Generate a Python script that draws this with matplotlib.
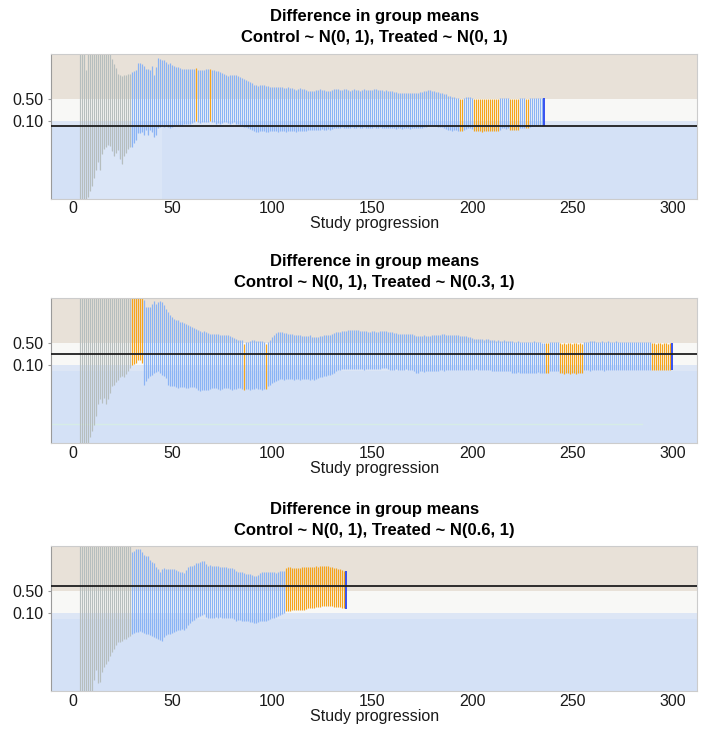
import numpy as np
import matplotlib
matplotlib.use("Agg")
import matplotlib.pyplot as plt

plt.rcParams['font.family'] = ['Liberation Sans', 'DejaVu Sans']

# ---- data ------------------------------------------------------------------
# each panel: confidence interval (lower, upper) per study step, starting at step 4
first_step = 4
burn_in = 30          # steps before this are drawn grey

titles = [
    "Difference in group means\nControl ~ N(0, 1), Treated ~ N(0, 1)",
    "Difference in group means\nControl ~ N(0, 1), Treated ~ N(0.3, 1)",
    "Difference in group means\nControl ~ N(0, 1), Treated ~ N(0.6, 1)",
]
true_diff = [0.0, 0.3, 0.6]

upper1 = [
    2.20, 1.90, 1.70, 1.02, 1.60, 1.80, 1.70, 1.60, 1.55, 1.50,
    1.50, 1.45, 1.42, 1.40, 1.38, 1.35, 1.22, 1.14, 1.06, 0.96,
    0.93, 0.91, 0.93, 0.93, 0.95, 0.95, 0.99, 1.01, 1.02, 1.15,
    1.15, 1.13, 1.09, 1.05, 1.05, 1.02, 1.09, 0.93, 1.08, 1.25,
    1.23, 1.20, 1.20, 1.17, 1.14, 1.15, 1.11, 1.09, 1.08, 1.08,
    1.06, 1.05, 1.05, 1.05, 1.04, 1.04, 1.05, 1.04, 1.06, 1.03,
    1.02, 1.02, 1.03, 1.04, 1.04, 1.05, 1.03, 1.02, 1.00, 1.00,
    0.99, 0.97, 0.95, 0.93, 0.92, 0.93, 0.93, 0.94, 0.93, 0.91,
    0.90, 0.88, 0.87, 0.85, 0.83, 0.81, 0.79, 0.76, 0.75, 0.74,
    0.75, 0.76, 0.75, 0.74, 0.73, 0.72, 0.72, 0.72, 0.72, 0.71,
    0.72, 0.71, 0.70, 0.70, 0.71, 0.70, 0.69, 0.67, 0.66, 0.68,
    0.69, 0.68, 0.67, 0.66, 0.64, 0.65, 0.64, 0.65, 0.66, 0.66,
    0.67, 0.66, 0.66, 0.65, 0.64, 0.65, 0.66, 0.67, 0.68, 0.67,
    0.66, 0.66, 0.67, 0.67, 0.66, 0.65, 0.66, 0.67, 0.66, 0.66,
    0.65, 0.66, 0.67, 0.66, 0.66, 0.66, 0.66, 0.67, 0.67, 0.66,
    0.66, 0.66, 0.65, 0.66, 0.65, 0.64, 0.64, 0.63, 0.62, 0.61,
    0.61, 0.60, 0.60, 0.60, 0.60, 0.61, 0.61, 0.60, 0.60, 0.61,
    0.62, 0.63, 0.64, 0.65, 0.66, 0.66, 0.65, 0.64, 0.63, 0.62,
    0.61, 0.60, 0.59, 0.58, 0.56, 0.55, 0.54, 0.53, 0.52, 0.52,
    0.49, 0.49, 0.51, 0.53, 0.54, 0.53, 0.52, 0.49, 0.49, 0.49,
    0.49, 0.49, 0.49, 0.49, 0.49, 0.49, 0.49, 0.49, 0.49, 0.49,
    0.51, 0.52, 0.52, 0.51, 0.51, 0.49, 0.49, 0.49, 0.49, 0.49,
    0.51, 0.51, 0.51, 0.49, 0.49, 0.51, 0.51, 0.52, 0.52, 0.51,
    0.52, 0.51, 0.51,
]
lower1 = [
    -2.00, -1.80, -1.60, -1.45, -1.28, -1.18, -1.08, -0.95, -0.80, -0.65,
    -0.80, -0.50, -0.42, -0.38, -0.34, -0.36, -0.45, -0.55, -0.48, -0.43,
    -0.60, -0.68, -0.55, -0.48, -0.42, -0.37, -0.38, -0.30, -0.25, -0.13,
    -0.13, -0.10, -0.16, -0.07, -0.16, -0.07, -0.10, -0.20, -0.16, -0.04,
    -0.02, 0.00, -0.02, 0.01, -0.02, -0.03, -0.02, 0.01, 0.02, 0.03,
    0.02, 0.03, 0.04, 0.05, 0.04, 0.05, 0.06, 0.08, 0.10, 0.07,
    0.06, 0.07, 0.08, 0.07, 0.08, 0.10, 0.08, 0.07, 0.05, 0.06,
    0.05, 0.06, 0.07, 0.07, 0.06, 0.05, 0.06, 0.07, 0.05, 0.04,
    0.02, 0.00, -0.01, -0.02, -0.03, -0.05, -0.07, -0.09, -0.10, -0.10,
    -0.09, -0.08, -0.09, -0.10, -0.10, -0.09, -0.09, -0.08, -0.09, -0.10,
    -0.09, -0.08, -0.09, -0.10, -0.09, -0.08, -0.08, -0.09, -0.10, -0.09,
    -0.08, -0.08, -0.09, -0.08, -0.07, -0.07, -0.06, -0.06, -0.07, -0.06,
    -0.06, -0.05, -0.06, -0.06, -0.05, -0.06, -0.05, -0.04, -0.03, -0.03,
    -0.03, -0.02, -0.03, -0.03, -0.04, -0.03, -0.02, -0.03, -0.03, -0.02,
    -0.03, -0.03, -0.02, -0.03, -0.04, -0.03, -0.03, -0.02, -0.03, -0.03,
    -0.02, -0.03, -0.03, -0.04, -0.03, -0.03, -0.04, -0.04, -0.05, -0.04,
    -0.04, -0.05, -0.04, -0.04, -0.04, -0.05, -0.04, -0.04, -0.03, -0.04,
    -0.04, -0.03, -0.02, -0.01, 0.01, 0.02, 0.02, 0.01, 0.00, -0.01,
    -0.02, -0.02, -0.03, -0.05, -0.07, -0.07, -0.08, -0.07, -0.07, -0.08,
    -0.09, -0.09, -0.07, -0.05, -0.04, -0.04, -0.05, -0.08, -0.09, -0.09,
    -0.09, -0.10, -0.09, -0.09, -0.09, -0.09, -0.09, -0.09, -0.08, -0.09,
    -0.06, -0.04, -0.04, -0.05, -0.04, -0.06, -0.06, -0.07, -0.06, -0.06,
    -0.04, -0.03, -0.03, -0.03, -0.03, -0.01, 0.00, 0.00, 0.01, 0.00,
    0.00, 0.00, 0.01,
]
orange1 = [(62, 62), (69, 69), (194, 195), (201, 213), (219, 223), (227, 228)]

upper2 = [
    2.60, 2.40, 2.20, 2.10, 2.00, 1.95, 1.90, 1.85, 1.80, 1.78,
    1.75, 1.70, 1.68, 1.65, 1.62, 1.60, 1.58, 1.56, 1.54, 1.52,
    1.50, 1.48, 1.47, 1.46, 1.45, 1.44, 1.43, 1.42, 1.41, 1.40,
    1.39, 1.38, 1.30, 1.17, 1.16, 1.17, 1.22, 1.28, 1.22, 1.25,
    1.28, 1.25, 1.20, 1.13, 1.07, 1.01, 0.98, 0.95, 0.92, 0.92,
    0.90, 0.89, 0.88, 0.86, 0.83, 0.82, 0.80, 0.78, 0.77, 0.74,
    0.72, 0.71, 0.72, 0.70, 0.69, 0.68, 0.68, 0.68, 0.67, 0.67,
    0.66, 0.65, 0.65, 0.65, 0.65, 0.63, 0.62, 0.60, 0.59, 0.57,
    0.57, 0.56, 0.49, 0.53, 0.53, 0.54, 0.56, 0.56, 0.55, 0.55,
    0.55, 0.54, 0.53, 0.49, 0.53, 0.57, 0.62, 0.66, 0.69, 0.71,
    0.71, 0.70, 0.69, 0.69, 0.68, 0.68, 0.67, 0.66, 0.65, 0.65,
    0.65, 0.64, 0.63, 0.63, 0.64, 0.65, 0.62, 0.61, 0.61, 0.62,
    0.63, 0.64, 0.65, 0.66, 0.65, 0.66, 0.68, 0.69, 0.71, 0.71,
    0.71, 0.72, 0.72, 0.73, 0.74, 0.75, 0.75, 0.75, 0.75, 0.74,
    0.73, 0.73, 0.72, 0.72, 0.71, 0.71, 0.72, 0.72, 0.71, 0.71,
    0.72, 0.73, 0.73, 0.72, 0.71, 0.71, 0.70, 0.69, 0.69, 0.68,
    0.68, 0.67, 0.67, 0.68, 0.67, 0.67, 0.68, 0.66, 0.64, 0.63,
    0.63, 0.64, 0.65, 0.64, 0.63, 0.64, 0.65, 0.65, 0.65, 0.65,
    0.66, 0.67, 0.67, 0.66, 0.66, 0.66, 0.66, 0.66, 0.65, 0.65,
    0.64, 0.64, 0.63, 0.63, 0.62, 0.61, 0.60, 0.58, 0.58, 0.59,
    0.58, 0.58, 0.57, 0.58, 0.58, 0.57, 0.56, 0.56, 0.55, 0.56,
    0.55, 0.55, 0.56, 0.55, 0.54, 0.55, 0.54, 0.53, 0.53, 0.54,
    0.53, 0.52, 0.53, 0.53, 0.52, 0.53, 0.53, 0.54, 0.53, 0.52,
    0.52, 0.51, 0.51, 0.50, 0.50, 0.52, 0.53, 0.53, 0.53, 0.52,
    0.50, 0.49, 0.50, 0.49, 0.50, 0.50, 0.49, 0.50, 0.50, 0.49,
    0.50, 0.49, 0.52, 0.53, 0.53, 0.54, 0.54, 0.54, 0.53, 0.53,
    0.53, 0.54, 0.53, 0.53, 0.54, 0.53, 0.53, 0.53, 0.54, 0.53,
    0.53, 0.53, 0.52, 0.53, 0.53, 0.53, 0.52, 0.53, 0.53, 0.52,
    0.53, 0.53, 0.52, 0.53, 0.52, 0.52, 0.50, 0.50, 0.49, 0.50,
    0.50, 0.49, 0.50, 0.50, 0.49, 0.50, 0.50,
]
lower2 = [
    -2.20, -1.90, -1.60, -1.40, -1.35, -1.20, -1.10, -0.98, -0.82, -0.60,
    -0.52, -0.58, -0.50, -0.60, -0.52, -0.40, -0.28, -0.25, -0.20, -0.16,
    -0.12, -0.10, -0.12, -0.06, -0.01, 0.05, 0.11, 0.12, 0.14, 0.20,
    0.20, 0.14, -0.25, -0.18, -0.13, -0.10, -0.07, -0.04, -0.02, -0.01,
    -0.04, -0.07, -0.10, -0.13, -0.25, -0.27, -0.28, -0.28, -0.29, -0.31,
    -0.30, -0.30, -0.29, -0.31, -0.31, -0.30, -0.29, -0.29, -0.32, -0.34,
    -0.36, -0.35, -0.34, -0.34, -0.34, -0.33, -0.32, -0.31, -0.32, -0.33,
    -0.34, -0.33, -0.31, -0.31, -0.32, -0.33, -0.34, -0.33, -0.33, -0.32,
    -0.32, -0.33, -0.34, -0.33, -0.33, -0.34, -0.33, -0.33, -0.32, -0.33,
    -0.33, -0.34, -0.33, -0.33, -0.28, -0.25, -0.22, -0.20, -0.18, -0.16,
    -0.15, -0.15, -0.16, -0.15, -0.15, -0.14, -0.15, -0.16, -0.15, -0.15,
    -0.16, -0.15, -0.15, -0.14, -0.15, -0.16, -0.15, -0.16, -0.14, -0.13,
    -0.12, -0.12, -0.10, -0.09, -0.08, -0.07, -0.05, -0.03, -0.01, 0.01,
    0.02, 0.03, 0.03, 0.03, 0.04, 0.03, 0.03, 0.03, 0.04, 0.03,
    0.03, 0.03, 0.02, 0.03, 0.03, 0.04, 0.03, 0.03, 0.03, 0.04,
    0.04, 0.05, 0.05, 0.05, 0.03, 0.02, 0.02, 0.02, 0.03, 0.02,
    0.02, 0.02, 0.02, 0.03, 0.02, 0.02, 0.02, -0.01, -0.03, -0.03,
    -0.01, -0.01, -0.02, -0.01, -0.01, -0.01, -0.01, 0.00, -0.01, -0.01,
    0.01, 0.01, 0.00, 0.01, 0.01, 0.01, 0.02, 0.01, 0.01, 0.01,
    0.01, 0.02, 0.02, 0.01, 0.02, 0.02, 0.02, 0.02, 0.03, 0.02,
    0.02, 0.02, 0.02, 0.02, 0.02, 0.02, -0.01, -0.01, 0.00, -0.01,
    -0.01, -0.01, -0.01, 0.00, -0.01, -0.01, -0.03, -0.03, -0.03, -0.02,
    -0.03, -0.03, -0.03, -0.03, -0.04, -0.03, -0.03, -0.03, -0.03, -0.02,
    -0.03, -0.03, -0.03, -0.03, -0.03, -0.01, -0.01, -0.01, -0.01, -0.01,
    -0.04, -0.04, -0.05, -0.04, -0.04, -0.05, -0.04, -0.04, -0.05, -0.04,
    -0.04, -0.04, 0.01, 0.01, 0.01, 0.00, 0.01, 0.01, 0.01, 0.01,
    0.01, 0.01, 0.00, 0.01, 0.01, 0.01, 0.01, 0.01, 0.01, 0.01,
    0.01, 0.01, 0.01, 0.01, 0.01, 0.01, 0.01, 0.01, 0.01, 0.01,
    0.01, 0.01, 0.01, 0.01, 0.01, 0.01, 0.01, 0.01, 0.01, 0.01,
    0.01, 0.01, 0.01, 0.01, 0.01, 0.01, 0.02,
]
orange2 = [(30, 35), (86, 86), (97, 97), (237, 238), (244, 255), (290, 299)]

upper3 = [
    2.60, 2.40, 2.20, 2.10, 2.00, 1.95, 1.90, 1.85, 1.80, 1.78,
    1.75, 1.70, 1.68, 1.65, 1.62, 1.60, 1.58, 1.56, 1.54, 1.52,
    1.50, 1.48, 1.46, 1.45, 1.43, 1.41, 1.21, 1.24, 1.27, 1.28,
    1.27, 1.21, 1.17, 1.14, 1.14, 1.08, 1.03, 1.01, 0.95, 0.90,
    0.86, 0.90, 0.92, 0.91, 0.91, 0.91, 0.90, 0.91, 0.89, 0.88,
    0.86, 0.85, 0.84, 0.89, 0.94, 0.97, 0.96, 0.99, 1.02, 1.01,
    1.03, 1.06, 1.05, 1.00, 0.97, 0.98, 0.97, 0.96, 0.96, 0.96,
    0.95, 0.94, 0.94, 0.94, 0.93, 0.93, 0.92, 0.90, 0.88, 0.85,
    0.86, 0.85, 0.84, 0.82, 0.82, 0.81, 0.80, 0.79, 0.79, 0.80,
    0.83, 0.85, 0.86, 0.86, 0.85, 0.86, 0.85, 0.85, 0.84, 0.86,
    0.87, 0.88, 0.88, 0.93, 0.94, 0.94, 0.93, 0.93, 0.92, 0.93,
    0.93, 0.94, 0.94, 0.94, 0.94, 0.95, 0.95, 0.95, 0.96, 0.95,
    0.96, 0.96, 0.97, 0.97, 0.96, 0.95, 0.94, 0.93, 0.92, 0.91,
    0.90, 0.89, 0.88, 0.87,
]
lower3 = [
    -2.30, -2.00, -1.70, -1.50, -1.40, -1.35, -1.35, -1.11, -0.94, -1.17,
    -1.15, -0.97, -0.88, -0.82, -0.76, -0.67, -0.60, -0.54, -0.48, -0.43,
    -0.42, -0.40, -0.36, -0.36, -0.33, -0.32, -0.28, -0.25, -0.23, -0.24,
    -0.22, -0.23, -0.25, -0.28, -0.27, -0.29, -0.31, -0.33, -0.35, -0.37,
    -0.39, -0.40, -0.33, -0.30, -0.28, -0.27, -0.25, -0.24, -0.22, -0.21,
    -0.20, -0.18, -0.20, -0.17, -0.12, -0.07, -0.04, -0.02, 0.01, 0.03,
    0.05, 0.07, 0.08, 0.04, 0.01, 0.01, 0.02, 0.02, 0.03, 0.02,
    0.03, 0.02, 0.02, 0.01, 0.02, 0.02, 0.01, -0.01, -0.03, -0.02,
    -0.02, -0.03, -0.03, -0.04, -0.03, -0.05, -0.06, -0.07, -0.07, -0.05,
    -0.04, -0.04, -0.03, -0.03, -0.02, -0.01, 0.01, 0.02, 0.03, 0.05,
    0.07, 0.09, 0.10, 0.14, 0.15, 0.15, 0.16, 0.16, 0.17, 0.17,
    0.17, 0.17, 0.17, 0.18, 0.19, 0.19, 0.20, 0.20, 0.21, 0.22,
    0.22, 0.23, 0.24, 0.24, 0.24, 0.23, 0.23, 0.22, 0.22, 0.21,
    0.21, 0.20, 0.20, 0.18,
]
orange3 = [(107, 136)]

panels = [(upper1, lower1, orange1), (upper2, lower2, orange2), (upper3, lower3, orange3)]

# ---- styling ---------------------------------------------------------------
c_grey = '#b6bebe'
c_blue = '#8ab3f5'
c_orange = '#f5a41c'
c_last = '#2744f0'
band_low = '#d4e1f6'
band_zero = '#dde6f5'
band_mid = '#f8f8f6'
band_high = '#e8e1d8'

ylo, yhi = -1.32, 1.325
xlo, xhi = -10.75, 312.4

fig = plt.figure(figsize=(7.21, 7.49), dpi=100)
bottoms = [0.7347, 0.4081, 0.0770]

for i, (upper, lower, orange) in enumerate(panels):
    ax = fig.add_axes([0.0707, bottoms[i], 0.8964, 0.1938])
    up = np.array(upper)
    lo = np.array(lower)
    x = np.arange(first_step, first_step + len(up))

    ax.axhspan(ylo, 0, color=band_low, lw=0, zorder=0)
    ax.axhspan(0, 0.1, color=band_zero, lw=0, zorder=0)
    ax.axhspan(0.1, 0.5, color=band_mid, lw=0, zorder=0)
    ax.axhspan(0.5, yhi, color=band_high, lw=0, zorder=0)

    cols = []
    for s in x:
        if s == x[-1]:
            cols.append(c_last)
        elif any(a <= s <= b for a, b in orange):
            cols.append(c_orange)
        elif s < burn_in:
            cols.append(c_grey)
        else:
            cols.append(c_blue)

    if i == 0:
        m = x <= 45
        ax.fill_between(x[m], ylo, lo[m], step='mid', color='white', alpha=0.18, lw=0, zorder=1)
    if i == 1:
        ax.plot([xlo, 285], [-0.975, -0.975], color='#d6ece6', lw=1, zorder=1)

    lws = [1.3 if c == c_last else 0.85 for c in cols]
    ax.vlines(x, lo, up, colors=cols, linewidths=lws, zorder=2)
    ax.axhline(true_diff[i], color='#1e1e1e', lw=1.3, zorder=3)

    ax.set_xlim(xlo, xhi)
    ax.set_ylim(ylo, yhi)
    ax.set_xticks(range(0, 301, 50))
    ax.set_yticks([0.5, 0.1])
    ax.set_yticklabels(['0.50', '0.10'])
    ax.tick_params(axis='x', length=0, pad=2, labelsize=11.5, labelcolor='#1a1a1a')
    ax.tick_params(axis='y', length=2, width=0.8, color='#999999', pad=3.5,
                   labelsize=11.5, labelcolor='#1a1a1a')
    ax.set_xlabel('Study progression', fontsize=11.5, labelpad=0, color='#1a1a1a')
    ax.set_title(titles[i], fontsize=12, fontweight='bold', pad=8, linespacing=1.5)
    for side in ['top', 'right', 'bottom']:
        ax.spines[side].set_color('#cccccc')
        ax.spines[side].set_linewidth(0.8)
    ax.spines['left'].set_color('#9a9a9a')
    ax.spines['left'].set_linewidth(0.8)

fig.savefig('out.png', dpi=100)
